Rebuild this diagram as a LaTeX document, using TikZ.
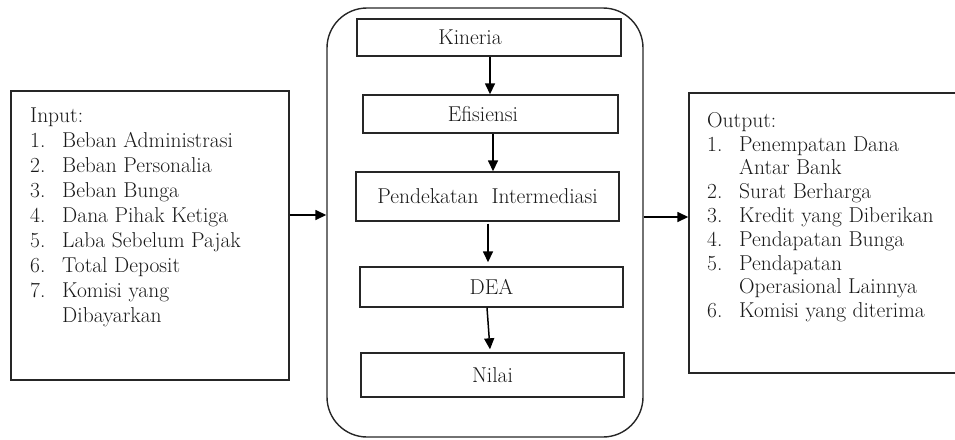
\documentclass[tikz,border=0pt]{standalone}
\usetikzlibrary{arrows.meta}
\tikzset{
  frame/.style={draw=black!85, line width=1.4pt, rectangle, inner sep=0pt},
  stepbox/.style={draw=black!85, line width=1.4pt, rectangle, inner sep=0pt, text=black!90, font=\fontsize{21.5}{24}\selectfont},
  arr/.style={line width=1.5pt, draw=black, -{Triangle[length=11pt,width=10pt]}},
  listtext/.style={inner sep=0pt, anchor=north west, align=left, text=black!90}
}
\newcommand{\itm}[2]{\makebox[32pt][l]{#1}#2}
\newcommand{\cont}{\hspace*{32pt}}
\begin{document}
\begin{tikzpicture}[x=1pt,y=-1pt]
\useasboundingbox (0,0) rectangle (955,439);
% left input box
\node[frame, minimum width=278pt, minimum height=289pt] (inbox) at (150,235.5) {};
\node[listtext, font=\fontsize{21.5}{24.9}\selectfont] (intext) at (30,108) {Input:\\
\itm{1.}{Beban Administrasi}\\
\itm{2.}{Beban Personalia}\\
\itm{3.}{Beban Bunga}\\
\itm{4.}{Dana Pihak Ketiga}\\
\itm{5.}{Laba Sebelum Pajak}\\
\itm{6.}{Total Deposit}\\
\itm{7.}{Komisi yang}\\
\cont Dibayarkan};
% center container
\node[frame, rounded corners=40pt, minimum width=316pt, minimum height=429pt] (mid) at (485,222.5) {};
\node[stepbox, minimum width=264pt, minimum height=37pt] (kin) at (489,37.5) {\hspace*{-38pt}Kineria};
\node[stepbox, minimum width=255pt, minimum height=38pt] (efi) at (490.5,114) {\hspace*{-15pt}Efisiensi};
\node[stepbox, minimum width=263pt, minimum height=49pt] (pen) at (487.5,196.5) {Pendekatan\ \ Intermediasi};
\node[stepbox, minimum width=263pt, minimum height=40pt] (dea) at (491.5,287) {DEA};
\node[stepbox, minimum width=263pt, minimum height=44pt] (nil) at (492.5,375) {Nilai};
% right output box
\node[frame, minimum width=270pt, minimum height=280pt] (outbox) at (824,233) {};
\node[listtext, font=\fontsize{21.5}{23.8}\selectfont] (outtext) at (707,112) {Output:\\
\itm{1.}{Penempatan Dana}\\
\cont Antar Bank\\
\itm{2.}{Surat Berharga}\\
\itm{3.}{Kredit yang Diberikan}\\
\itm{4.}{Pendapatan Bunga}\\
\itm{5.}{Pendapatan}\\
\cont Operasional Lainnya\\
\itm{6.}{Komisi yang diterima}};
% connectors
\draw[arr] ([yshift=20.5pt]inbox.east) coordinate (a1) -- (a1 -| mid.west);
\draw[arr] ([yshift=5.5pt]mid.east) coordinate (a2) -- (a2 -| outbox.west);
\draw[arr] ([xshift=1pt]kin.south) coordinate (b1) -- (b1 |- efi.north);
\draw[arr] ([xshift=2.5pt]efi.south) coordinate (b2) -- (b2 |- pen.north);
\draw[arr] ([xshift=0.5pt,yshift=-2pt]pen.south) coordinate (b3) -- ([yshift=4pt]b3 |- dea.north);
\draw[arr] ([xshift=-4.5pt]dea.south) -- ([xshift=-2.5pt,yshift=3pt]nil.north);
\end{tikzpicture}
\end{document}
